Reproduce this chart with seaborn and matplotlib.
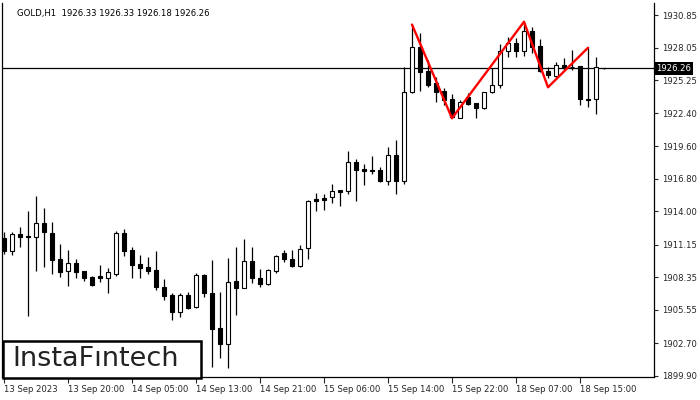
import matplotlib
matplotlib.use("Agg")
import numpy as np
import pandas as pd
import matplotlib.pyplot as plt
import seaborn as sns
from matplotlib.patches import Rectangle
from matplotlib.transforms import blended_transform_factory

# GOLD H1 candles, 13 Sep 12:00 .. 18 Sep 17:00 (76 bars)
opens = [1911.69, 1910.62, 1912.06, 1911.89, 1911.83, 1912.98, 1912.17, 1909.91, 1908.91, 1909.54,
         1908.88, 1908.34, 1908.45, 1908.31, 1908.63, 1912.12, 1910.68, 1909.48, 1909.20, 1908.97,
         1907.48, 1906.82, 1905.34, 1906.82, 1905.77, 1908.54, 1906.97, 1903.97, 1902.59, 1908.02,
         1907.45, 1909.74, 1908.31, 1907.74, 1908.91, 1910.40, 1909.91, 1909.34, 1910.83, 1915.06,
         1915.15, 1915.21, 1915.83, 1915.77, 1918.21, 1917.61, 1917.55, 1917.55, 1916.63, 1918.84,
         1916.63, 1924.22, 1928.08, 1926.04, 1924.99, 1924.33, 1923.62, 1922.04, 1923.84, 1923.27,
         1922.89, 1924.22, 1924.84, 1927.76, 1928.42, 1927.79, 1929.48, 1928.19, 1926.04, 1925.64,
         1926.56, 1926.43, 1926.47, 1923.62, 1923.62, 1926.33]
highs = [1912.23, 1912.25, 1912.68, 1914.03, 1915.34, 1914.26, 1913.06, 1911.20, 1910.68, 1909.91,
         1908.88, 1908.45, 1909.40, 1909.11, 1912.31, 1912.46, 1910.97, 1910.26, 1910.11, 1910.62,
         1908.20, 1906.97, 1906.97, 1907.05, 1908.69, 1908.63, 1909.83, 1907.11, 1910.02, 1910.97,
         1911.63, 1910.97, 1909.05, 1909.05, 1910.26, 1910.68, 1910.68, 1911.11, 1914.97, 1915.55,
         1915.49, 1916.35, 1915.83, 1919.18, 1918.49, 1918.06, 1918.75, 1917.78, 1919.55, 1920.12,
         1926.36, 1930.05, 1929.28, 1926.99, 1925.56, 1924.56, 1924.04, 1923.56, 1924.13, 1923.27,
         1924.22, 1926.28, 1928.34, 1928.99, 1928.90, 1930.27, 1929.82, 1928.76, 1926.41, 1926.84,
         1927.19, 1927.85, 1926.47, 1928.08, 1927.27, 1926.33]
lows = [1910.34, 1910.26, 1910.97, 1905.05, 1908.91, 1909.25, 1908.63, 1908.39, 1907.60, 1908.26,
        1908.02, 1907.60, 1907.96, 1906.97, 1908.48, 1910.17, 1908.31, 1908.31, 1908.63, 1907.25,
        1906.39, 1904.68, 1904.96, 1905.60, 1905.68, 1906.68, 1900.62, 1901.39, 1900.53, 1905.11,
        1907.45, 1907.83, 1907.54, 1907.68, 1908.69, 1909.68, 1909.25, 1909.25, 1909.89, 1914.06,
        1914.12, 1914.74, 1914.49, 1915.49, 1914.91, 1916.26, 1917.21, 1916.49, 1916.26, 1915.49,
        1916.37, 1924.13, 1924.35, 1924.65, 1923.41, 1923.13, 1921.99, 1921.99, 1923.13, 1921.99,
        1922.81, 1924.13, 1924.56, 1927.27, 1927.22, 1927.36, 1927.56, 1925.93, 1925.42, 1925.42,
        1926.13, 1926.13, 1923.13, 1922.98, 1922.35, 1926.18]
closes = [1910.62, 1912.06, 1911.83, 1911.77, 1912.98, 1912.20, 1909.83, 1908.82, 1909.54, 1908.82,
          1908.31, 1907.66, 1908.31, 1908.77, 1912.12, 1910.62, 1909.40, 1909.17, 1908.91, 1907.54,
          1906.76, 1905.34, 1906.82, 1905.73, 1908.54, 1906.97, 1903.88, 1902.59, 1907.91, 1907.45,
          1909.74, 1908.26, 1907.74, 1908.97, 1910.17, 1909.89, 1909.34, 1910.77, 1914.89, 1914.91,
          1914.97, 1915.75, 1915.69, 1918.21, 1917.55, 1917.46, 1917.44, 1916.63, 1918.84, 1916.63,
          1924.22, 1928.08, 1925.98, 1924.84, 1924.27, 1923.56, 1922.12, 1923.41, 1923.19, 1922.84,
          1924.22, 1924.84, 1927.76, 1928.47, 1927.79, 1929.48, 1928.13, 1926.07, 1925.70, 1926.56,
          1926.28, 1926.39, 1923.62, 1923.58, 1926.41, 1926.26]

time_labels = ["13 Sep 2023", "13 Sep 20:00", "14 Sep 05:00", "14 Sep 13:00", "14 Sep 21:00",
               "15 Sep 06:00", "15 Sep 14:00", "15 Sep 22:00", "18 Sep 07:00", "18 Sep 15:00"]
price_ticks = [1899.90, 1902.70, 1905.55, 1908.35, 1911.15, 1914.00,
               1916.80, 1919.60, 1922.40, 1925.25, 1928.05, 1930.85]

# triple top pattern (bar index, price)
pattern_bar = [51, 56, 65, 68, 73]
pattern_price = [1930.03, 1921.99, 1930.27, 1924.65, 1928.04]
last_price = 1926.26

sns.set_style("white")
plt.rcParams['font.family'] = ['DejaVu Sans']

df = pd.DataFrame({"o": opens, "h": highs, "l": lows, "c": closes})
df["bar"] = np.arange(len(df))
df["bull"] = df["c"] > df["o"]
df["bottom"] = df[["o", "c"]].min(axis=1)
df["size"] = (df["c"] - df["o"]).abs().clip(lower=0.02)

fig = plt.figure(figsize=(7, 4), dpi=100)
ax = fig.add_axes([2 / 700, 23 / 400, 652 / 700, 374 / 400])

ax.axhline(last_price, color="black", lw=0.9, zorder=1)
ax.vlines(df["bar"], df["l"], df["h"], color="black", lw=0.9, zorder=2)
ax.bar(df["bar"], df["size"], bottom=df["bottom"], width=0.56,
       color=np.where(df["bull"], "white", "black"), edgecolor="black",
       linewidth=0.8, zorder=3)

sns.lineplot(x=pattern_bar, y=pattern_price, color="#ff0000", lw=1.7, ax=ax, zorder=4)

ax.set_xlim(-0.25, 81.25)
ax.set_ylim(1899.79, 1931.88)

ax.set_xticks(range(0, 73, 8))
ax.set_xticklabels(time_labels, ha="left", fontsize=6.1)
ax.yaxis.tick_right()
ax.set_yticks(price_ticks)
ax.set_yticklabels([f"{p:.2f}" for p in price_ticks], fontsize=6.1)
ax.tick_params(axis="x", direction="out", length=4, width=0.8, pad=2, bottom=True)
ax.tick_params(axis="y", direction="out", length=3, width=0.8, pad=3, right=True, left=False)
ax.set_xlabel("")
ax.set_ylabel("")
for side in ["left", "bottom", "right"]:
    ax.spines[side].set_color("black")
    ax.spines[side].set_linewidth(0.9)
ax.spines["top"].set_visible(False)

# current price tag on the right axis
tr = blended_transform_factory(ax.transAxes, ax.transData)
ax.text(1.004, last_price, f"{last_price:.2f}", transform=tr, fontsize=6.1, color="white",
        va="center", ha="left", clip_on=False, zorder=6,
        bbox=dict(facecolor="black", edgecolor="none", pad=1.3))

fig.text(17 / 700, 1 - 16 / 400, "GOLD,H1  1926.33 1926.33 1926.18 1926.26",
         fontsize=6.1, color="black", va="baseline")

# logo box
fig.patches.append(Rectangle((3 / 700, 22 / 400), 198 / 700, 37 / 400, transform=fig.transFigure,
                             facecolor="white", edgecolor="black", linewidth=1.8, zorder=10))
fig.text(96 / 700, 1 - 359 / 400, "InstaF\u0131ntech", fontsize=19.5, color="#222222",
         ha="center", va="center", zorder=11)

fig.savefig("out.png", dpi=100)
